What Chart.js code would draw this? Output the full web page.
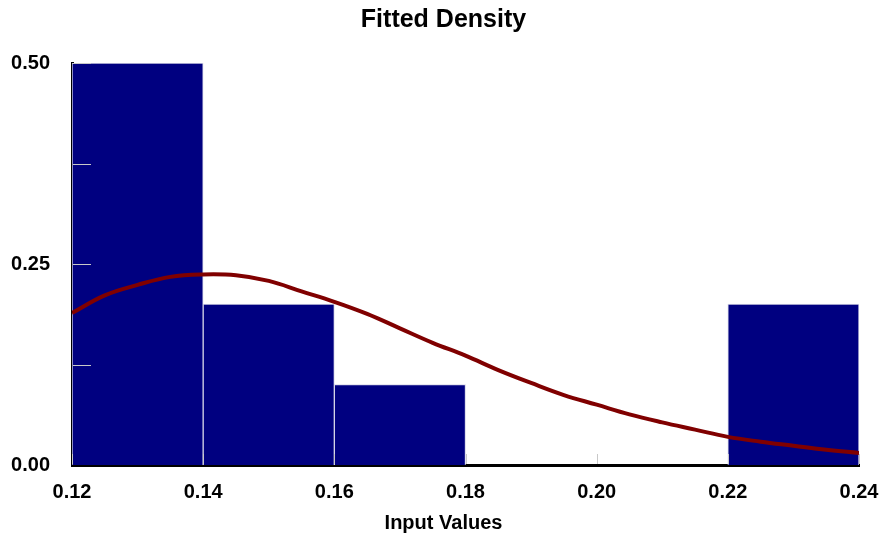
<!DOCTYPE html>
<html>
<head>
<meta charset="utf-8">
<script src="https://cdn.jsdelivr.net/npm/chart.js@4"></script>
<style>
html,body{margin:0;padding:0;background:#fff;}
canvas{display:block;}
</style>
</head>
<body>
<canvas id="c" width="881" height="539"></canvas>
<script>
// ---- data ----
const binCenters = [0.13, 0.15, 0.17, 0.19, 0.21, 0.23];
const binValues  = [0.50, 0.20, 0.10, 0.00, 0.00, 0.20];
const curveX = [0.120,0.125,0.130,0.135,0.140,0.145,0.150,0.155,0.160,0.165,0.170,0.175,0.180,0.185,0.190,0.195,0.200,0.205,0.210,0.215,0.220,0.225,0.230,0.235,0.240];
const curveY = [0.189,0.211,0.224,0.234,0.237,0.236,0.229,0.216,0.203,0.188,0.170,0.152,0.136,0.118,0.102,0.087,0.075,0.063,0.053,0.044,0.035,0.029,0.024,0.019,0.015];
const yTickMarks = [0.125, 0.25, 0.375, 0.5];
const xTickMarks = [0.12, 0.14, 0.16, 0.18, 0.20, 0.22, 0.24];
const titleText = 'Fitted Density';
const xTitle = 'Input Values';

const FONT = "'Liberation Sans', Arial, sans-serif";

const innerTicks = {
  id: 'innerTicks',
  afterDatasetsDraw(chart) {
    const {ctx, chartArea, scales} = chart;
    ctx.save();
    ctx.strokeStyle = '#c8c8c8';
    ctx.lineWidth = 1;
    yTickMarks.forEach(v => {
      const y = Math.round(scales.y.getPixelForValue(v)) + 0.5;
      ctx.beginPath();
      ctx.moveTo(chartArea.left + 1, y);
      ctx.lineTo(chartArea.left + 19, y);
      ctx.stroke();
    });
    xTickMarks.forEach(v => {
      const x = Math.round(scales.x.getPixelForValue(v)) + 0.5;
      ctx.beginPath();
      ctx.moveTo(x, chartArea.bottom - 1);
      ctx.lineTo(x, chartArea.bottom - 11);
      ctx.stroke();
    });
    ctx.restore();
  }
};

new Chart(document.getElementById('c'), {
  type: 'bar',
  data: {
    datasets: [
      {
        type: 'line',
        data: curveX.map((x, i) => ({x: x, y: curveY[i]})),
        borderColor: '#800000',
        borderWidth: 4,
        pointRadius: 0,
        tension: 0.4,
        fill: false,
        order: 0
      },
      {
        type: 'bar',
        data: binCenters.map((x, i) => ({x: x, y: binValues[i]})),
        backgroundColor: '#000080',
        borderColor: '#d4d4e6',
        borderWidth: 1,
        barPercentage: 1.0,
        categoryPercentage: 1.0,
        grouped: false,
        order: 1
      }
    ]
  },
  options: {
    responsive: false,
    animation: false,
    layout: { padding: { left: 10, right: 4, top: 0, bottom: 2 } },
    plugins: {
      legend: { display: false },
      tooltip: { enabled: false },
      title: {
        display: true,
        text: titleText,
        color: '#000',
        font: { family: FONT, size: 25, weight: 'bold' },
        padding: { top: 5, bottom: 28 }
      },
      subtitle: {
        display: true,
        position: 'bottom',
        text: xTitle,
        color: '#000',
        font: { family: FONT, size: 20, weight: 'bold' },
        padding: { top: 6, bottom: 2 }
      }
    },
    scales: {
      x: {
        type: 'linear',
        min: 0.12,
        max: 0.24,
        offset: false,
        grid: { display: false, drawTicks: false },
        border: { display: true, color: '#000', width: 3 },
        ticks: {
          stepSize: 0.02,
          color: '#000',
          padding: 15,
          maxRotation: 0,
          font: { family: FONT, size: 20, weight: 'bold' },
          callback: v => Number(v).toFixed(2)
        },
        title: { display: false },
        afterFit: s => { s.height = 40; s.paddingLeft = 0; s.paddingRight = 22; }
      },
      y: {
        min: 0,
        max: 0.5,
        grid: { display: false, drawTicks: false },
        border: { display: true, color: '#000', width: 3 },
        ticks: {
          stepSize: 0.25,
          color: '#000',
          padding: 22,
          font: { family: FONT, size: 20, weight: 'bold' },
          callback: v => Number(v).toFixed(2)
        },
        afterFit: s => { s.width = 62; }
      }
    }
  },
  plugins: [innerTicks]
});
</script>
</body>
</html>
